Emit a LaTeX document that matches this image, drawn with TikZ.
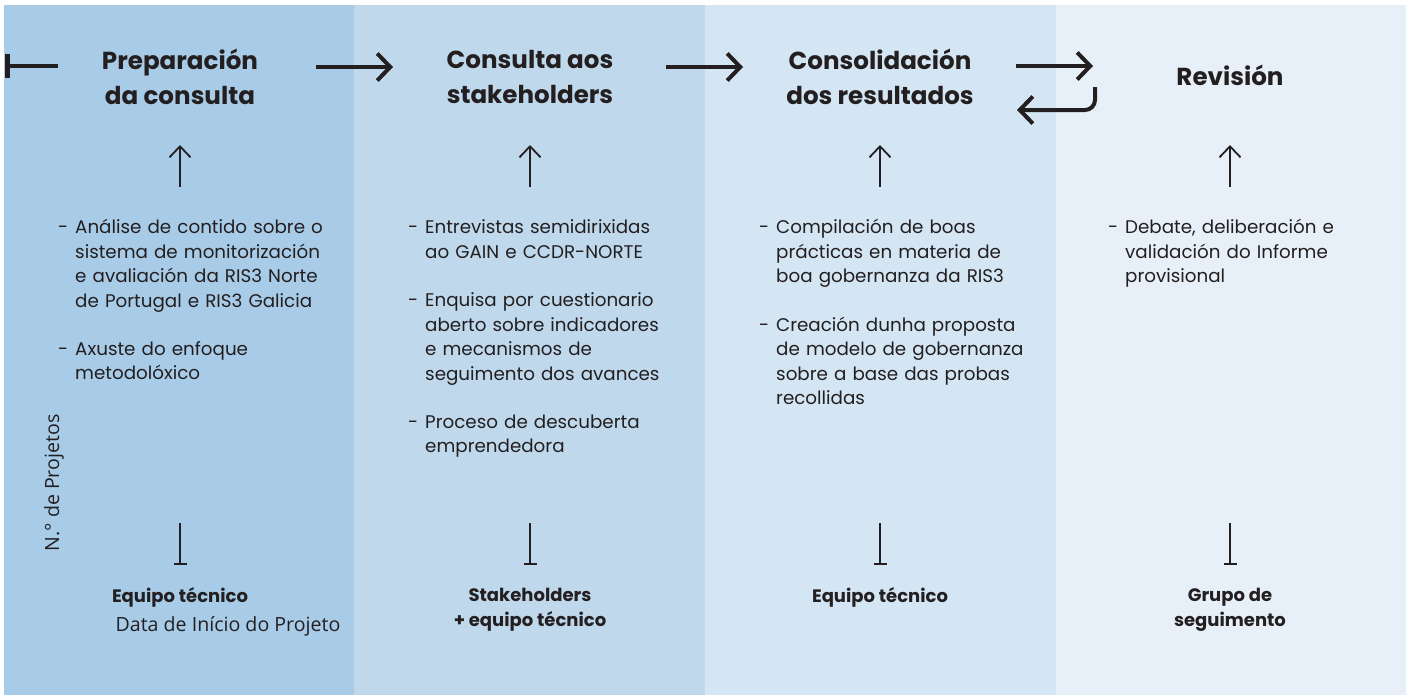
\documentclass[tikz,border=0pt]{standalone}
\usepackage{fontspec}
\setmainfont{Poppins}
\newfontfamily\lblfont{Open Sans}
\usetikzlibrary{arrows.meta}
\definecolor{bandA}{RGB}{168,203,231}
\definecolor{bandB}{RGB}{191,216,236}
\definecolor{bandC}{RGB}{212,229,243}
\definecolor{bandD}{RGB}{231,240,248}
\definecolor{ink}{RGB}{35,31,32}
\newcommand{\dashitem}{\llap{-\hspace{7pt}}}
\begin{document}
\begin{tikzpicture}[x=1pt,y=-1pt,
  title/.style={font=\fontsize{24.6}{35}\selectfont\bfseries, align=center, text=ink, inner sep=0pt},
  body/.style={font=\fontsize{18.3}{24.5}\selectfont, align=left, text=ink, inner sep=0pt, anchor=base west, text width=320pt},
  who/.style={font=\fontsize{18}{25}\selectfont\bfseries, align=center, text=ink, inner sep=0pt},
  lbl/.style={font=\lblfont\fontsize{19.6}{22}\selectfont, text=ink, inner sep=0pt},
  flow/.style={draw=ink, line width=4pt, -{Straight Barb[length=13pt,width=27pt]}},
  up/.style={draw=ink, line width=1.8pt, -{Straight Barb[length=11pt,width=21pt]}},
  tee/.style={draw=ink, line width=1.8pt, -{Bar[width=13pt]}},
  startbar/.style={draw=ink, line width=4pt, {Bar[width=24pt,line width=5pt]}-}
]
\useasboundingbox (0,0) rectangle (1409,697);
\fill[bandA] (4,5) rectangle (354,695);
\fill[bandB] (354,5) rectangle (705,695);
\fill[bandC] (705,5) rectangle (1056,695);
\fill[bandD] (1056,5) rectangle (1406,695);

% titles
\node[title] (t1) at (180,77) {Preparación\\da consulta};
\node[title] (t2) at (530,77) {Consulta aos\\stakeholders};
\node[title] (t3) at (880,77) {Consolidación\\dos resultados};
\node[title] (t4) at (1230,75) {Revisión};

% flow arrows
\coordinate (s0) at (5,66);
\coordinate (s1) at (58,66);
\draw[startbar] (s0) -- (s1);
\coordinate (a1s) at (316,67);
\coordinate (a1e) at (393,67);
\draw[flow] (a1s) -- (a1e);
\coordinate (a2s) at (666,67);
\coordinate (a2e) at (743,67);
\draw[flow] (a2s) -- (a2e);
\coordinate (a3s) at (1016,66);
\coordinate (a3e) at (1093,66);
\draw[flow] (a3s) -- (a3e);
\coordinate (r0) at (1095,87);
\coordinate (r1) at (1017,110);
\draw[flow, rounded corners=10pt] (r0) |- (r1);

% up arrows and tees
\foreach \x/\n in {180/1,530/2,880/3,1230/4}{
  \coordinate (u\n s) at (\x,187);
  \coordinate (u\n e) at (\x,145);
  \draw[up] (u\n s) -- (u\n e);
  \coordinate (d\n s) at (\x,523);
  \coordinate (d\n e) at (\x,565);
  \draw[tee] (d\n s) -- (d\n e);
}

% bullet texts
\node[body] (c1a) at (75,233.5) {\dashitem Análise de contido sobre o\\sistema de monitorización\\e avaliación da RIS3 Norte\\de Portugal e RIS3 Galicia};
\node[body] (c1b) at (75,355) {\dashitem Axuste do enfoque\\metodolóxico};
\node[body] (c2a) at (425,233.5) {\dashitem Entrevistas semidirixidas\\ao GAIN e CCDR-NORTE};
\node[body] (c2b) at (425,306.5) {\dashitem Enquisa por cuestionario\\aberto sobre indicadores\\e mecanismos de\\seguimento dos avances};
\node[body] (c2c) at (425,428) {\dashitem Proceso de descuberta\\emprendedora};
\node[body] (c3a) at (776,233.5) {\dashitem Compilación de boas\\prácticas en materia de\\boa gobernanza da RIS3};
\node[body] (c3b) at (776,331) {\dashitem Creación dunha proposta\\de modelo de gobernanza\\sobre a base das probas\\recollidas};
\node[body] (c4a) at (1125,233.5) {\dashitem Debate, deliberación e\\validación do Informe\\provisional};

% who
\node[who] (w1) at (180,597) {Equipo técnico};
\node[lbl] (dt) at (228,626) {Data de Início do Projeto};
\node[who] (w2) at (530,610) {Stakeholders\\+ equipo técnico};
\node[who] (w3) at (880,597) {Equipo técnico};
\node[who] (w4) at (1230,610) {Grupo de\\seguimento};

\node[lbl, rotate=90] (np) at (54,483) {N.° de Projetos};
\end{tikzpicture}
\end{document}
